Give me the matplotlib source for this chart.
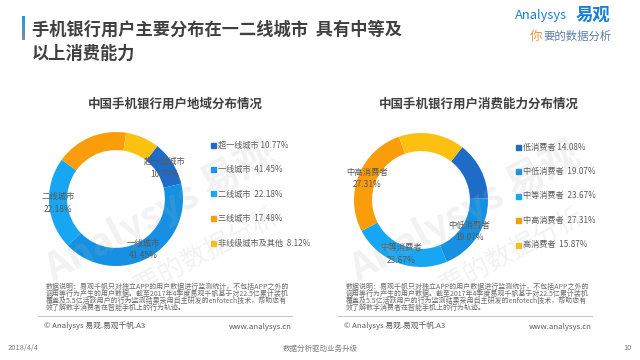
import matplotlib
matplotlib.use('Agg')
import matplotlib.pyplot as plt
import numpy as np
from matplotlib.lines import Line2D
from matplotlib.colors import LinearSegmentedColormap

plt.rcParams['font.family'] = ['Noto Sans CJK SC', 'DejaVu Sans']

W, H = 640, 360

# data
region_labels = ['超一线城市', '一线城市', '二线城市', '三线城市', '非线级城市及其他']
region_values = [10.77, 41.45, 22.18, 17.48, 8.12]
region_shown = [True, True, True, False, False]

spend_labels = ['低消费者', '中低消费者', '中等消费者', '中高消费者', '高消费者']
spend_values = [14.08, 19.07, 23.67, 27.31, 15.87]
spend_shown = [False, True, True, True, False]

colors = ['#1f6cc8', '#1590e2', '#17a6f2', '#f99d0b', '#fcc010']

note_lines = [
    '数据说明：易观千帆只对独立APP的用户数据进行监测统计，不包括APP之外的',
    '调用等行为产生的用户数据。截至2017年4季度易观千帆基于对22.5亿累计装机',
    '覆盖及5.5亿活跃用户的行为监测结果采用自主研发的enfotech技术，帮助您有',
    '效了解数字消费者在智能手机上的行为轨迹。',
]

fig = plt.figure(figsize=(6.4, 3.6), dpi=100)
fig.patch.set_facecolor('white')


def tx(x, y, s, **kw):
    return fig.text(x / W, 1 - y / H, s, **kw)


def hline(x0, x1, y, color='#c8c8c8', lw=0.8):
    fig.add_artist(Line2D([x0 / W, x1 / W], [1 - y / H, 1 - y / H],
                          color=color, lw=lw, transform=fig.transFigure))


# title bar with gradient
bar = fig.add_axes([22 / W, 1 - 40 / H, 3 / W, 24 / H])
grad = np.linspace(0, 1, 50).reshape(-1, 1)
cm = LinearSegmentedColormap.from_list('g', ['#1a9be2', '#8c8c8c'])
bar.imshow(grad, aspect='auto', cmap=cm)
bar.axis('off')

tx(32, 30, '手机银行用户主要分布在一二线城市  具有中等及', fontsize=12.4,
   fontweight='bold', color='#404040', va='center')
tx(32, 54, '以上消费能力', fontsize=12.4, fontweight='bold', color='#404040', va='center')

# logo
tx(515, 16, 'Analysys', fontsize=9.3, color='#1a7fd4', va='center')
tx(576, 15, '易观', fontsize=12.5, color='#1a7fd4', va='center', fontweight='bold')
tx(530, 36, '你', fontsize=9, color='#f0953a', va='center')
tx(543, 36, '要的数据分析', fontsize=8.2, color='#5b7fa8', va='center')


def donut(cx, cy, r, values, labels, shown, title, tcx, legend_x, legend_y0):
    ax = fig.add_axes([(cx - r) / W, 1 - (cy + r) / H, 2 * r / W, 2 * r / H])
    wedges, _ = ax.pie(values, colors=colors, startangle=52, counterclock=False,
                       radius=1, wedgeprops=dict(width=0.27, linewidth=0))
    ax.set_xlim(-1, 1)
    ax.set_ylim(-1, 1)
    ax.set_aspect('equal')
    ax.axis('off')
    for w, lab, val, sh in zip(wedges, labels, values, shown):
        if not sh:
            continue
        ang = np.deg2rad((w.theta1 + w.theta2) / 2)
        x, y = 0.86 * np.cos(ang), 0.86 * np.sin(ang)
        ax.text(x, y, f'{lab}\n{val:.2f}%', ha='center', va='center',
                fontsize=6, color='#595959', linespacing=1.5)
    tx(tcx, 104, title, fontsize=9, fontweight='bold', color='#404040',
       ha='center', va='center')
    for i, (lab, val) in enumerate(zip(labels, values)):
        y = legend_y0 + i * 24.5
        fig.patches.append(plt.Rectangle(((legend_x - 2.5) / W, 1 - (y + 2.5) / H),
                                         5 / W, 5 / H, color=colors[i],
                                         transform=fig.transFigure))
        sep = ' ' if i == 0 else '  '
        tx(legend_x + 5, y, f'{lab}{sep}{val:.2f}%', fontsize=5.9,
           color='#595959', va='center')


donut(116, 199, 67, region_values, region_labels, region_shown,
      '中国手机银行用户地域分布情况', 175, 213, 145)
donut(421, 200, 67, spend_values, spend_labels, spend_shown,
      '中国手机银行用户消费能力分布情况', 479, 518, 147)

# watermark
for dx in (0, 305):
    tx(160 + dx, 212, 'Analysys 易观', fontsize=28, color='#b0b0b0', alpha=0.16,
       rotation=28, ha='center', va='center', fontweight='bold', zorder=10)
    tx(195 + dx, 258, '你要的数据分析', fontsize=19, color='#b0b0b0', alpha=0.16,
       rotation=28, ha='center', va='center', zorder=10)

# notes
for x0 in (46, 346):
    for i, line in enumerate(note_lines):
        tx(x0, 287 + i * 7, line, fontsize=5.0, color='#6b6b6b', va='center')
    hline(x0 - 8, x0 + 246, 316)
    tx(x0 - 2, 325, '© Analysys 易观.易观千帆.A3', fontsize=5.6, color='#595959', va='center')
    tx(x0 + 246, 327, 'www.analysys.cn', fontsize=5.6, color='#595959', va='center', ha='right')

tx(8, 348, '2018/4/4', fontsize=5.4, color='#7f7f7f', va='center')
tx(320, 349, '数据分析驱动业务升级', fontsize=5.4, color='#7f7f7f', va='center', ha='center')
tx(628, 348, '10', fontsize=5.4, color='#7f7f7f', va='center', ha='center')

fig.savefig('out.png', dpi=100, facecolor='white')
